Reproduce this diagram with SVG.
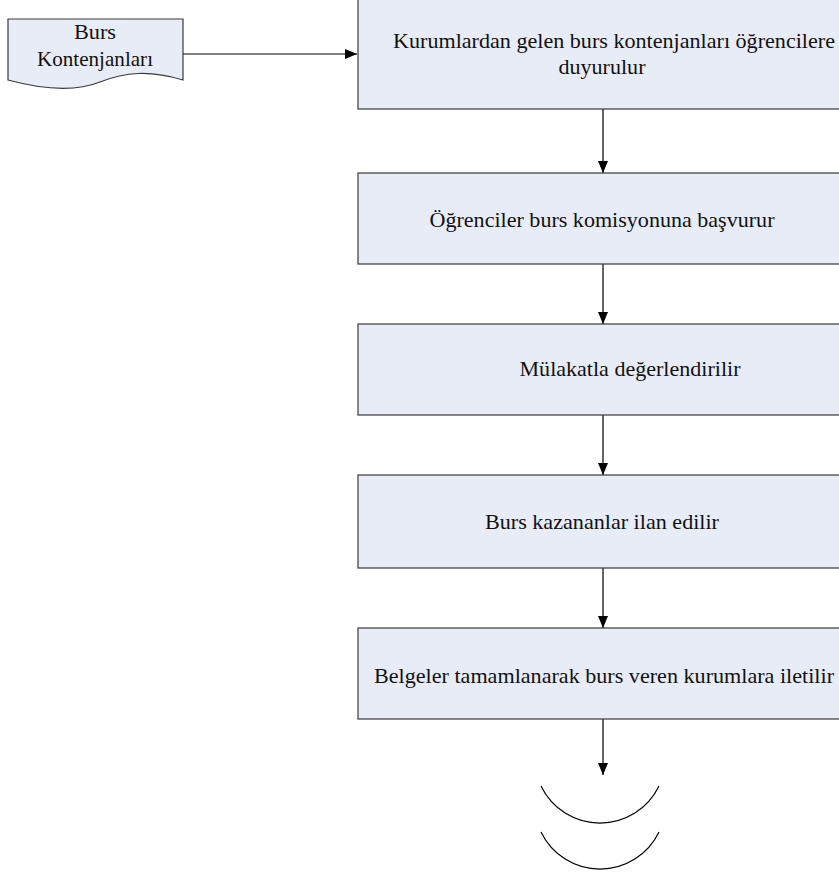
<svg xmlns="http://www.w3.org/2000/svg" width="839" height="880" viewBox="0 0 839 880">
<style>
.box{fill:#E8ECF7;stroke:#3a3a3a;stroke-width:1.2}
.t{font-family:"Liberation Serif","Times New Roman",serif;font-size:21px;fill:#111;text-anchor:middle}
.c{fill:none;stroke:#000;stroke-width:1.2}
</style>
<defs>
<marker id="ah" markerWidth="12" markerHeight="10" refX="12" refY="5" orient="auto" markerUnits="userSpaceOnUse">
<path d="M0,0 L12,5 L0,10 Z" fill="#000"/>
</marker>
</defs>
<g id="connectors">
<path class="c" d="M183,54 L357,54" marker-end="url(#ah)"/>
<path class="c" d="M603,109 L603,173" marker-end="url(#ah)"/>
<path class="c" d="M603,264 L603,324" marker-end="url(#ah)"/>
<path class="c" d="M603,415 L603,475" marker-end="url(#ah)"/>
<path class="c" d="M603,568 L603,628" marker-end="url(#ah)"/>
<path class="c" d="M603,719 L603,775" marker-end="url(#ah)"/>
</g>
<g id="doc">
<path class="box" d="M8,19 L183,19 L183,80 C150,70 125,72 100,82 C75,92 45,90 8,80 Z"/>
<text class="t" x="95" y="39" textLength="42" lengthAdjust="spacingAndGlyphs">Burs</text>
<text class="t" x="95" y="66" textLength="116" lengthAdjust="spacingAndGlyphs">Kontenjanları</text>
</g>
<g id="n1">
<rect class="box" x="358" y="-2" width="500" height="111"/>
<text class="t" x="614" y="48" textLength="442" lengthAdjust="spacingAndGlyphs">Kurumlardan gelen burs kontenjanları öğrencilere</text>
<text class="t" x="602" y="74" textLength="87" lengthAdjust="spacingAndGlyphs">duyurulur</text>
</g>
<g id="n2">
<rect class="box" x="358" y="173" width="500" height="91"/>
<text class="t" x="602" y="227" textLength="345" lengthAdjust="spacingAndGlyphs">Öğrenciler burs komisyonuna başvurur</text>
</g>
<g id="n3">
<rect class="box" x="358" y="324" width="500" height="91"/>
<text class="t" x="630" y="376" textLength="221" lengthAdjust="spacingAndGlyphs">Mülakatla değerlendirilir</text>
</g>
<g id="n4">
<rect class="box" x="358" y="475" width="500" height="93"/>
<text class="t" x="602" y="529" textLength="234" lengthAdjust="spacingAndGlyphs">Burs kazananlar ilan edilir</text>
</g>
<g id="n5">
<rect class="box" x="358" y="628" width="500" height="91"/>
<text class="t" x="604" y="683" textLength="460" lengthAdjust="spacingAndGlyphs">Belgeler tamamlanarak burs veren kurumlara iletilir</text>
</g>
<g id="end">
<path class="c" d="M541,786 A65.5,65.5 0 0 0 659,786"/>
<path class="c" d="M541,832 A65.5,65.5 0 0 0 659,832"/>
</g>
</svg>
